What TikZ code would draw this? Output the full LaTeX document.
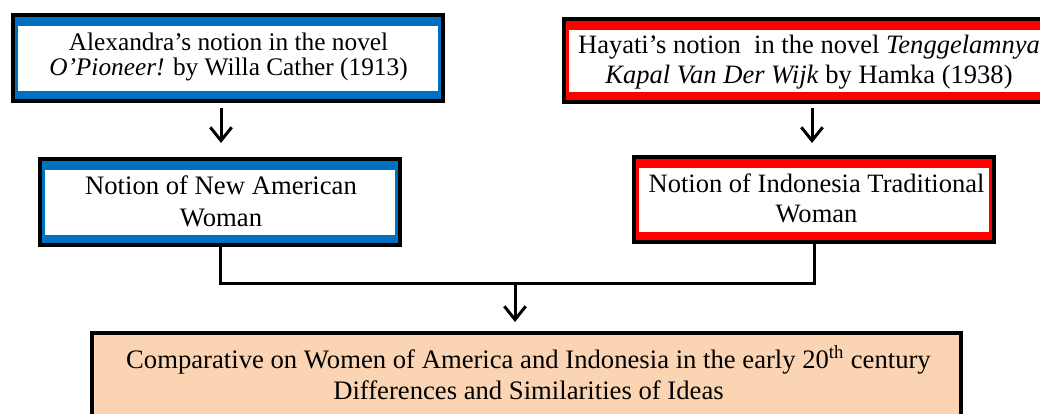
\documentclass[tikz,border=0pt]{standalone}
\usepackage{fontspec}
\setmainfont{Liberation Serif}
\usetikzlibrary{arrows.meta}
\definecolor{boxblue}{HTML}{0070C0}
\definecolor{boxred}{HTML}{FF0000}
\definecolor{peach}{HTML}{FBD4B4}
\tikzset{
  framed/.style={draw=black, line width=3pt, fill=#1, inner sep=0pt,
    path picture={\fill[white] ([xshift=3.75pt,yshift=-8.5pt]path picture bounding box.north west) rectangle ([xshift=-3.75pt,yshift=7.5pt]path picture bounding box.south east);}},
  resultbox/.style={draw=black, line width=3pt, fill=peach, inner sep=0pt},
  boxtext/.style={align=center, inner sep=0pt},
  conn/.style={line width=2.25pt},
  arr/.style={line width=2.25pt, -{Straight Barb[length=10pt,width=16pt]}}
}
\begin{document}
\begin{tikzpicture}[x=0.75pt,y=-0.75pt]
\useasboundingbox (0,0) rectangle (1040,414);
\fill[white] (0,0) rectangle (1040,414);
\clip (0,0) rectangle (1040,414);

% boxes
\node[framed=boxblue, minimum width=430*0.75pt, minimum height=86*0.75pt] (box1) at (228,58) {};
\node[framed=boxred, minimum width=490*0.75pt, minimum height=83*0.75pt] (box2) at (809,60.5) {};
\node[framed=boxblue, minimum width=360*0.75pt, minimum height=86*0.75pt] (box3) at (220,202) {};
\node[framed=boxred, minimum width=360*0.75pt, minimum height=85*0.75pt] (box4) at (814,199.5) {};
\node[resultbox, minimum width=869*0.75pt, minimum height=110*0.75pt] (box5) at (526.5,388) {};

% texts
\node[boxtext, font=\fontsize{19}{19.1}\selectfont] (t1) at (228.5,56.8)
  {Alexandra’s notion in the novel\\\textit{O’Pioneer!} by Willa Cather (1913)};
\node[boxtext, font=\fontsize{19.9}{22.5}\selectfont] (t2) at (809,61.75)
  {Hayati’s notion\ \ in the novel \textit{Tenggelamnya}\\\textit{Kapal Van Der Wijk} by Hamka (1938)};
\node[boxtext, font=\fontsize{20}{24}\selectfont] (t3) at (221,201.8)
  {Notion of New American\\Woman};
\node[boxtext, font=\fontsize{19.9}{22.5}\selectfont] (t4) at (816.5,197.9)
  {Notion of Indonesia Traditional\\Woman};
\node[boxtext, font=\fontsize{20}{23.25}\selectfont] (t5) at (528.5,373)
  {Comparative on Women of America and Indonesia in the early 20\textsuperscript{th} century\\Differences and Similarities of Ideas};

% connectors
\coordinate (a1s) at (221,108);
\coordinate (a1e) at (221,143);
\coordinate (a2s) at (812,108);
\coordinate (a2e) at (812,143);
\coordinate (j) at (515,283);
\coordinate (a3e) at (515,322);

\draw[arr] (a1s) -- (a1e);
\draw[arr] (a2s) -- (a2e);
\draw[conn] (box3.south) |- (j) -| (box4.south);
\draw[arr] (j) -- (a3e);
\end{tikzpicture}
\end{document}
